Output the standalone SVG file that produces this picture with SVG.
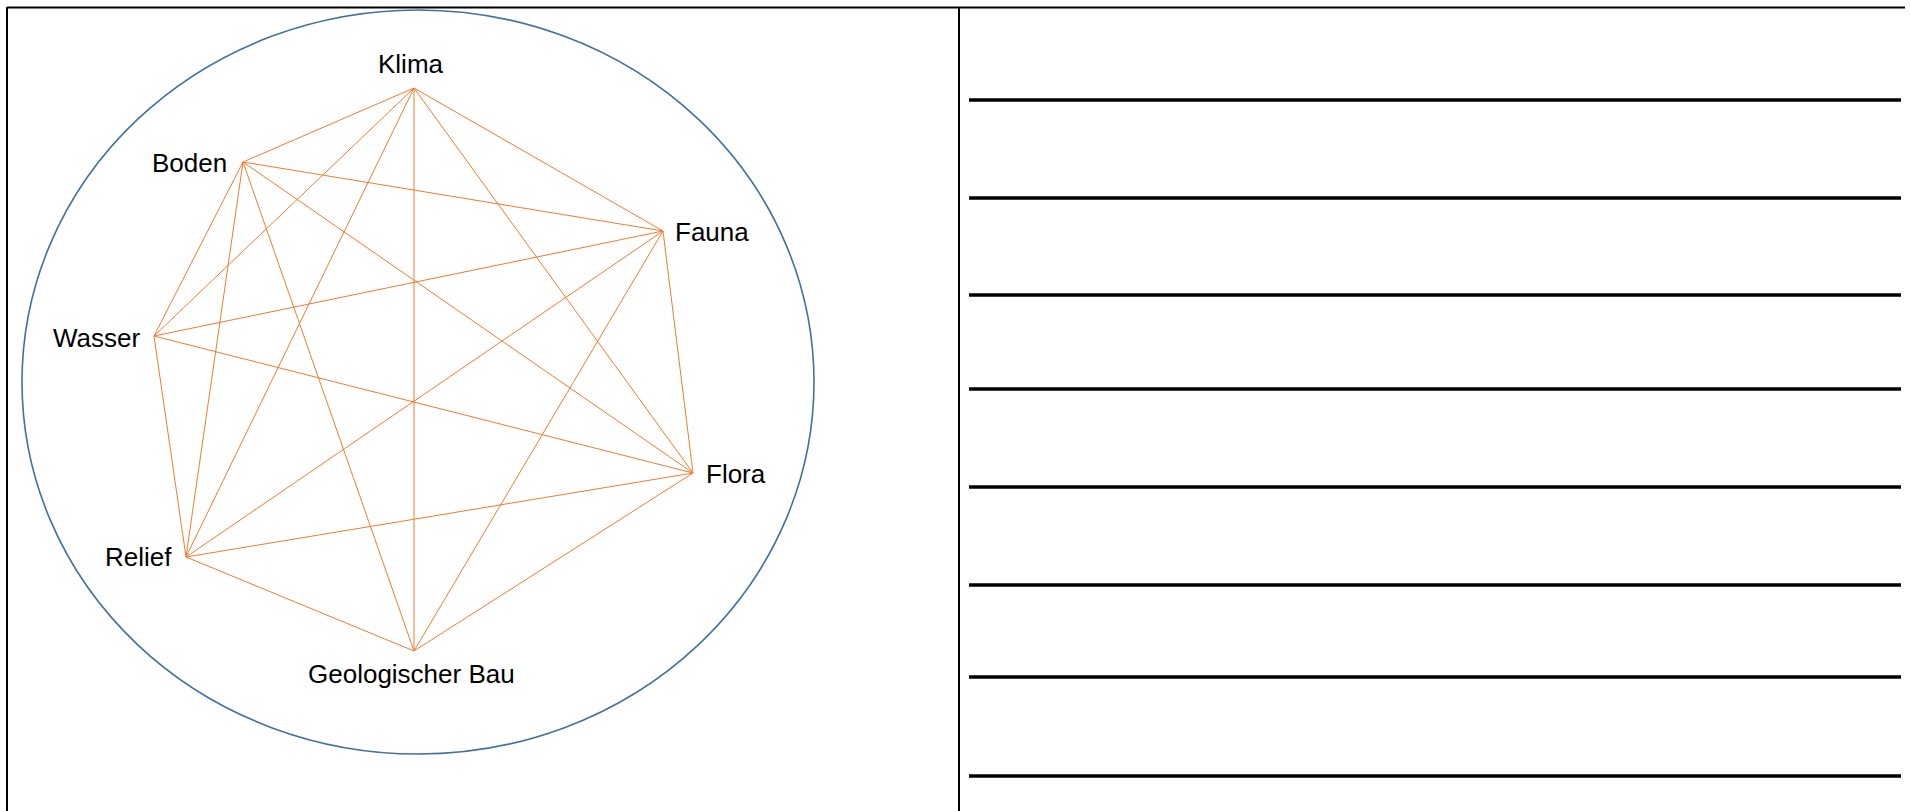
<svg xmlns="http://www.w3.org/2000/svg" width="1910" height="811" viewBox="0 0 1910 811">
<style>
.lbl{font-family:"Liberation Sans",Arial,sans-serif;font-size:26px;fill:#000}
.edge{stroke:#ED7D31;stroke-width:1;fill:none}
.rule{stroke:#000;stroke-width:3.6}
.frame{stroke:#000;stroke-width:2;fill:none}
</style>
<rect x="0" y="0" width="1910" height="811" fill="#fff"/>
<g id="frame">
<line class="frame" x1="7" y1="7.5" x2="1905" y2="7.5"/>
<line class="frame" x1="7" y1="7" x2="7" y2="811"/>
<line class="frame" x1="959" y1="7" x2="959" y2="811"/>
</g>
<g id="writing-lines">
<line class="rule" x1="969" y1="100" x2="1901" y2="100"/>
<line class="rule" x1="969" y1="198" x2="1901" y2="198"/>
<line class="rule" x1="969" y1="295" x2="1901" y2="295"/>
<line class="rule" x1="969" y1="389" x2="1901" y2="389"/>
<line class="rule" x1="969" y1="487" x2="1901" y2="487"/>
<line class="rule" x1="969" y1="585" x2="1901" y2="585"/>
<line class="rule" x1="969" y1="677" x2="1901" y2="677"/>
<line class="rule" x1="969" y1="776" x2="1901" y2="776"/>
</g>
<g id="circle">
<ellipse cx="418" cy="382" rx="396" ry="372" fill="none" stroke="#41719C" stroke-width="1.6"/>
</g>
<g id="connectors">
<line class="edge" x1="414" y1="88" x2="243" y2="162"/>
<line class="edge" x1="414" y1="88" x2="663" y2="231"/>
<line class="edge" x1="414" y1="88" x2="693" y2="473"/>
<line class="edge" x1="414" y1="88" x2="154" y2="336"/>
<line class="edge" x1="414" y1="88" x2="186" y2="557"/>
<line class="edge" x1="414" y1="88" x2="414" y2="651"/>
<line class="edge" x1="243" y1="162" x2="663" y2="231"/>
<line class="edge" x1="243" y1="162" x2="693" y2="473"/>
<line class="edge" x1="243" y1="162" x2="154" y2="336"/>
<line class="edge" x1="243" y1="162" x2="186" y2="557"/>
<line class="edge" x1="243" y1="162" x2="414" y2="651"/>
<line class="edge" x1="663" y1="231" x2="154" y2="336"/>
<line class="edge" x1="663" y1="231" x2="186" y2="557"/>
<line class="edge" x1="663" y1="231" x2="414" y2="651"/>
<line class="edge" x1="663" y1="231" x2="693" y2="473"/>
<line class="edge" x1="154" y1="336" x2="693" y2="473"/>
<line class="edge" x1="154" y1="336" x2="186" y2="557"/>
<line class="edge" x1="186" y1="557" x2="693" y2="473"/>
<line class="edge" x1="186" y1="557" x2="414" y2="651"/>
<line class="edge" x1="693" y1="473" x2="414" y2="651"/>
</g>
<g id="node-klima"><text class="lbl" x="378" y="73">Klima</text></g>
<g id="node-boden"><text class="lbl" x="152" y="172">Boden</text></g>
<g id="node-fauna"><text class="lbl" x="675" y="241">Fauna</text></g>
<g id="node-wasser"><text class="lbl" x="53" y="347">Wasser</text></g>
<g id="node-flora"><text class="lbl" x="706" y="483">Flora</text></g>
<g id="node-relief"><text class="lbl" x="105" y="566">Relief</text></g>
<g id="node-geologischer-bau"><text class="lbl" x="308" y="683">Geologischer Bau</text></g>
</svg>
